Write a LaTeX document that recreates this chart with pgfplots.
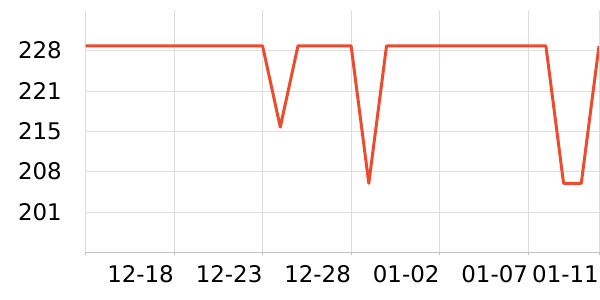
\documentclass[border=0pt]{standalone}
\usepackage{pgfplots}
\pgfplotsset{compat=1.18}
\usepackage{fontspec}
\setmainfont{DejaVu Sans}
\definecolor{lineC}{RGB}{238,74,45}
\definecolor{gridC}{RGB}{221,221,221}
\definecolor{axisC}{RGB}{195,195,195}
\begin{document}
\begin{tikzpicture}
\begin{axis}[
  scale only axis,
  width=513.5bp, height=242.3bp,
  xmin=0, xmax=29,
  ymin=194.45, ymax=235,
  axis lines*=left,
  x axis line style={-, draw=axisC, line width=0.8pt},
  y axis line style={draw=none},
  xtick={0,5,10,15,20,25,29},
  xticklabels={,12-18,12-23,12-28,01-02,01-07,01-11},
  ytick={201.2,207.95,214.7,221.45,228.2},
  yticklabels={201,208,215,221,228},
  grid=major,
  grid style={draw=gridC, line width=0.6pt},
  tick align=outside,
  major tick length=3bp,
  xtick style={draw=axisC, line width=0.6pt},
  ytick style={draw=none},
  tick label style={font=\fontsize{23}{27}\selectfont, text=black, inner sep=0pt},
  x tick label style={anchor=north east, yshift=-10bp},
  y tick label style={anchor=east, xshift=-20.5bp},
  /pgf/number format/assume math mode=true,
  clip=true,
]
\addplot[color=lineC, line width=3pt, line join=round, no markers] coordinates {
(0,229) (1,229) (2,229) (3,229) (4,229) (5,229) (6,229) (7,229) (8,229) (9,229)
(10,229) (11,215.4) (12,229) (13,229) (14,229) (15,229) (16,206) (17,229)
(18,229) (19,229) (20,229) (21,229) (22,229) (23,229) (24,229) (25,229)
(26,229) (27,206) (28,206) (29,229)
};
\end{axis}
\path (current axis.south west) ++(-85.5bp,-47.7bp) rectangle ++(600bp,300bp);
\end{tikzpicture}
\end{document}
